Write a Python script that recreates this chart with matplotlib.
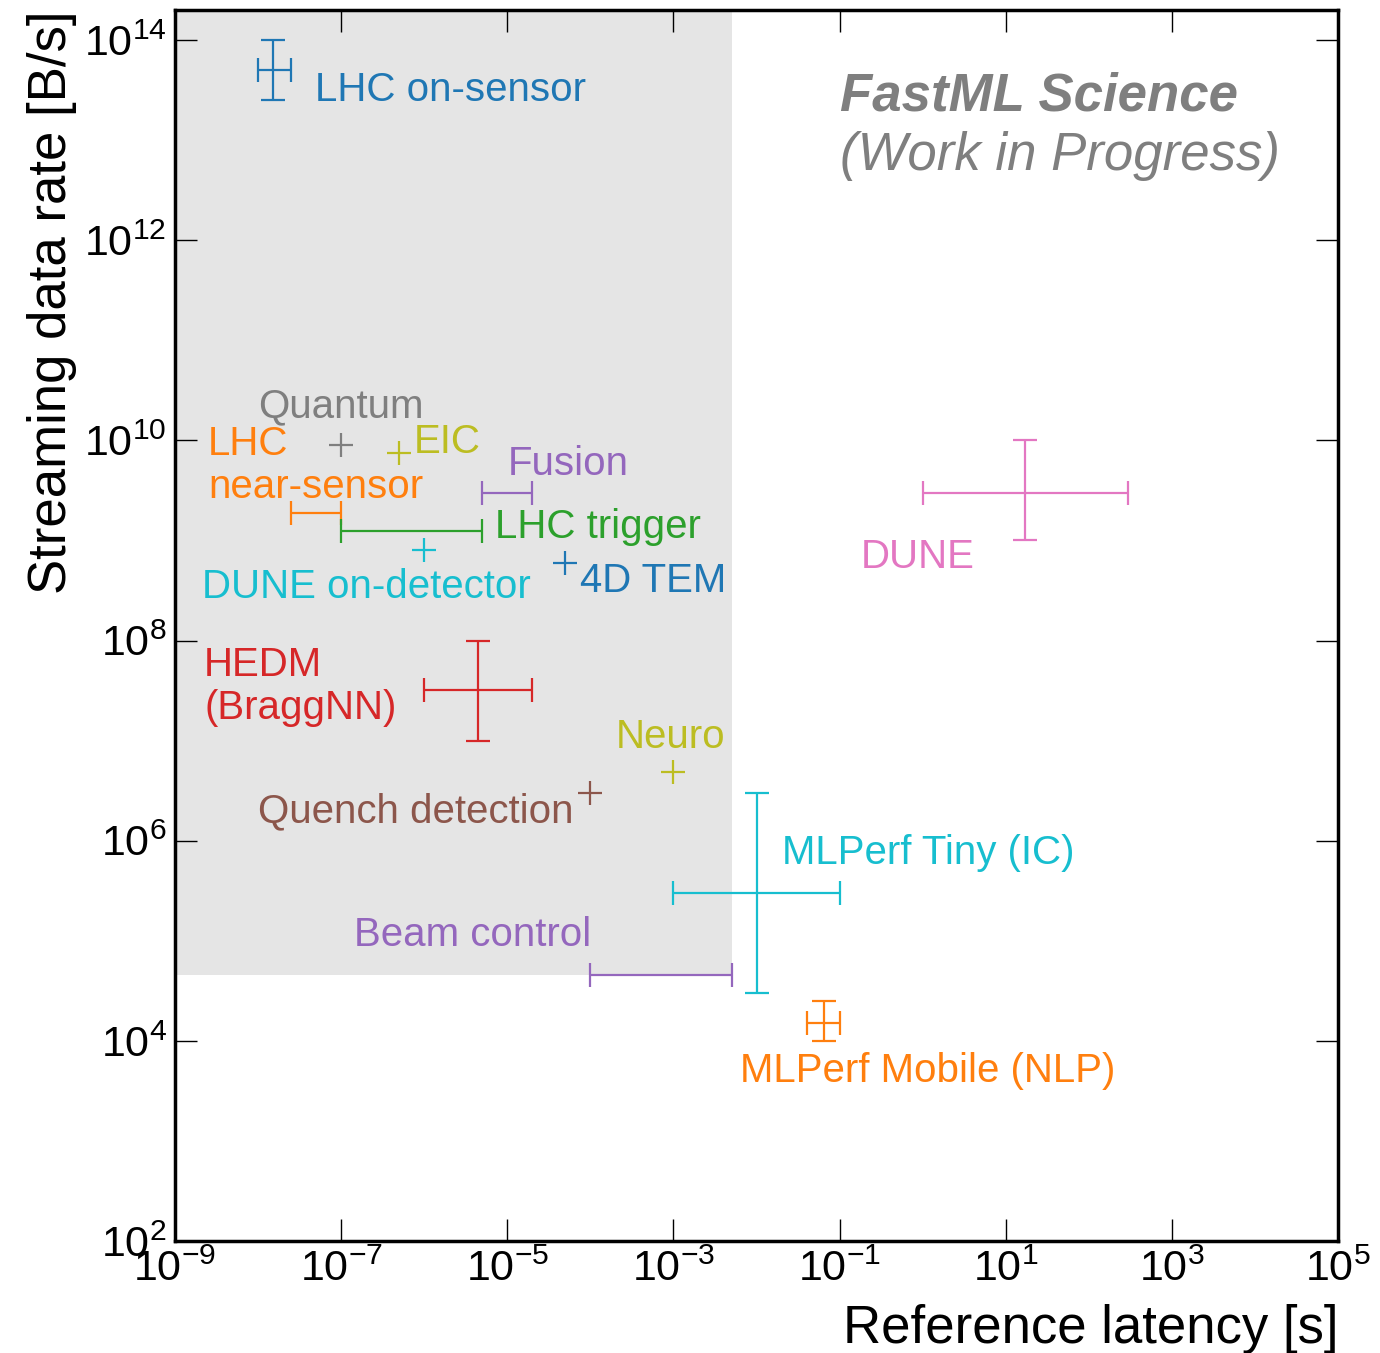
import matplotlib
matplotlib.use("Agg")
import matplotlib.pyplot as plt
import numpy as np

plt.rcParams["font.family"] = ["Liberation Sans", "DejaVu Sans"]
plt.rcParams["mathtext.fontset"] = "custom"
plt.rcParams["mathtext.rm"] = "Liberation Sans"
plt.rcParams["mathtext.it"] = "Liberation Sans:italic"
plt.rcParams["mathtext.bf"] = "Liberation Sans:bold"

# ── data ─────────────────────────────────────────────────────────────────────
# latency [s] and streaming rate [B/s]; None = no error bar in that direction
names = ["LHC on-sensor", "Quantum", "LHC\nnear-sensor", "EIC", "Fusion",
         "LHC trigger", "DUNE on-detector", "4D TEM", "HEDM\n(BraggNN)",
         "Neuro", "Quench detection", "MLPerf Tiny (IC)", "Beam control",
         "MLPerf Mobile (NLP)", "DUNE"]
latency    = [1.5e-8, 1e-7, 5e-8, 5e-7, 1e-5, 7e-7, 1e-6, 5e-5, 4.4e-6,
              1e-3, 1e-4, 1e-2, 7e-4, 6.5e-2, 17]
latency_lo = [1e-8, None, 2.5e-8, None, 5e-6, 1e-7, None, None, 1e-6,
              None, None, 1e-3, 1e-4, 4e-2, 1]
latency_hi = [2.5e-8, None, 1e-7, None, 2e-5, 5e-6, None, None, 2e-5,
              None, None, 1e-1, 5e-3, 1e-1, 300]
rate    = [5e13, 9e9, 1.9e9, 7.5e9, 3e9, 1.25e9, 8e8, 6e8, 3.2e7,
           4.9e6, 3e6, 3e5, 4.5e4, 1.5e4, 3e9]
rate_lo = [2.5e13, None, None, None, None, None, None, None, 1e7,
           None, None, 3e4, None, 1e4, 1e9]
rate_hi = [1e14, None, None, None, None, None, None, None, 1e8,
           None, None, 3e6, None, 2.5e4, 1e10]
colors = ["tab:blue", "tab:gray", "tab:orange", "tab:olive", "tab:purple",
          "tab:green", "tab:cyan", "tab:blue", "tab:red", "tab:olive",
          "tab:brown", "tab:cyan", "tab:purple", "tab:orange", "tab:pink"]

# label anchor points (log10 latency, log10 rate)
label_pos = [(-7.31, 13.50), (-8.0, 10.34), (-8.6, 9.75), (-6.12, 9.98),
             (-4.99, 9.76), (-5.15, 9.13), (-8.675, 8.53), (-4.125, 8.59),
             (-8.65, 7.54), (-3.69, 7.04), (-8.0, 6.29), (-1.69, 5.88),
             (-6.845, 5.06), (-2.2, 3.70), (-0.75, 8.83)]

# low-latency / high-rate region
region_x = (1e-9, 5e-3)
region_y = (4.5e4, 10**14.3)

# ── figure ───────────────────────────────────────────────────────────────────
fig = plt.figure(figsize=(13.8, 13.53), dpi=100)
ax = fig.add_axes([0.1268, 0.0828, 0.9696 - 0.1268, 0.9926 - 0.0828])
ax.set_xscale("log")
ax.set_yscale("log")
ax.set_xlim(1e-9, 1e5)
ax.set_ylim(1e2, 10**14.3)

ax.fill_between(region_x, region_y[0], region_y[1], color="#e5e5e5",
                linewidth=0, zorder=0)

def _err(c, lo, hi):
    if lo is None:
        return None
    return [[c - lo], [hi - c]]

for i, name in enumerate(names):
    xerr = _err(latency[i], latency_lo[i], latency_hi[i])
    yerr = _err(rate[i], rate_lo[i], rate_hi[i])
    fmt = "+" if xerr is None and yerr is None else "none"
    ax.errorbar([latency[i]], [rate[i]], xerr=xerr, yerr=yerr, fmt=fmt,
                color=colors[i], ecolor=colors[i], elinewidth=1.6,
                capsize=8.5, capthick=1.6, markersize=17, mew=1.6, zorder=3)
    lx, ly = label_pos[i]
    ax.text(10**lx, 10**ly, name, color=colors[i], fontsize=29,
            ha="left", va="center", linespacing=1.17, zorder=4)

ax.text(10**-0.995, 10**13.44, "FastML Science", color="#7f7f7f",
        fontsize=38, fontweight="bold", fontstyle="italic", va="center")
ax.text(10**-0.995, 10**12.84, "(Work in Progress)", color="#7f7f7f",
        fontsize=38, fontstyle="italic", va="center")

ax.set_xticks([10.0**k for k in range(-9, 6, 2)])
ax.set_yticks([10.0**k for k in range(2, 15, 2)])
ax.minorticks_off()
ax.tick_params(which="major", direction="in", length=16, width=1.0,
               top=True, right=True, labelsize=31, pad=6)
for s in ax.spines.values():
    s.set_linewidth(2.5)

ax.set_xlabel("Reference latency [s]", fontsize=38, loc="right", labelpad=10)
ax.set_ylabel("Streaming data rate [B/s]", fontsize=38, loc="top",
              labelpad=5)

fig.savefig("out.png", dpi=100)
